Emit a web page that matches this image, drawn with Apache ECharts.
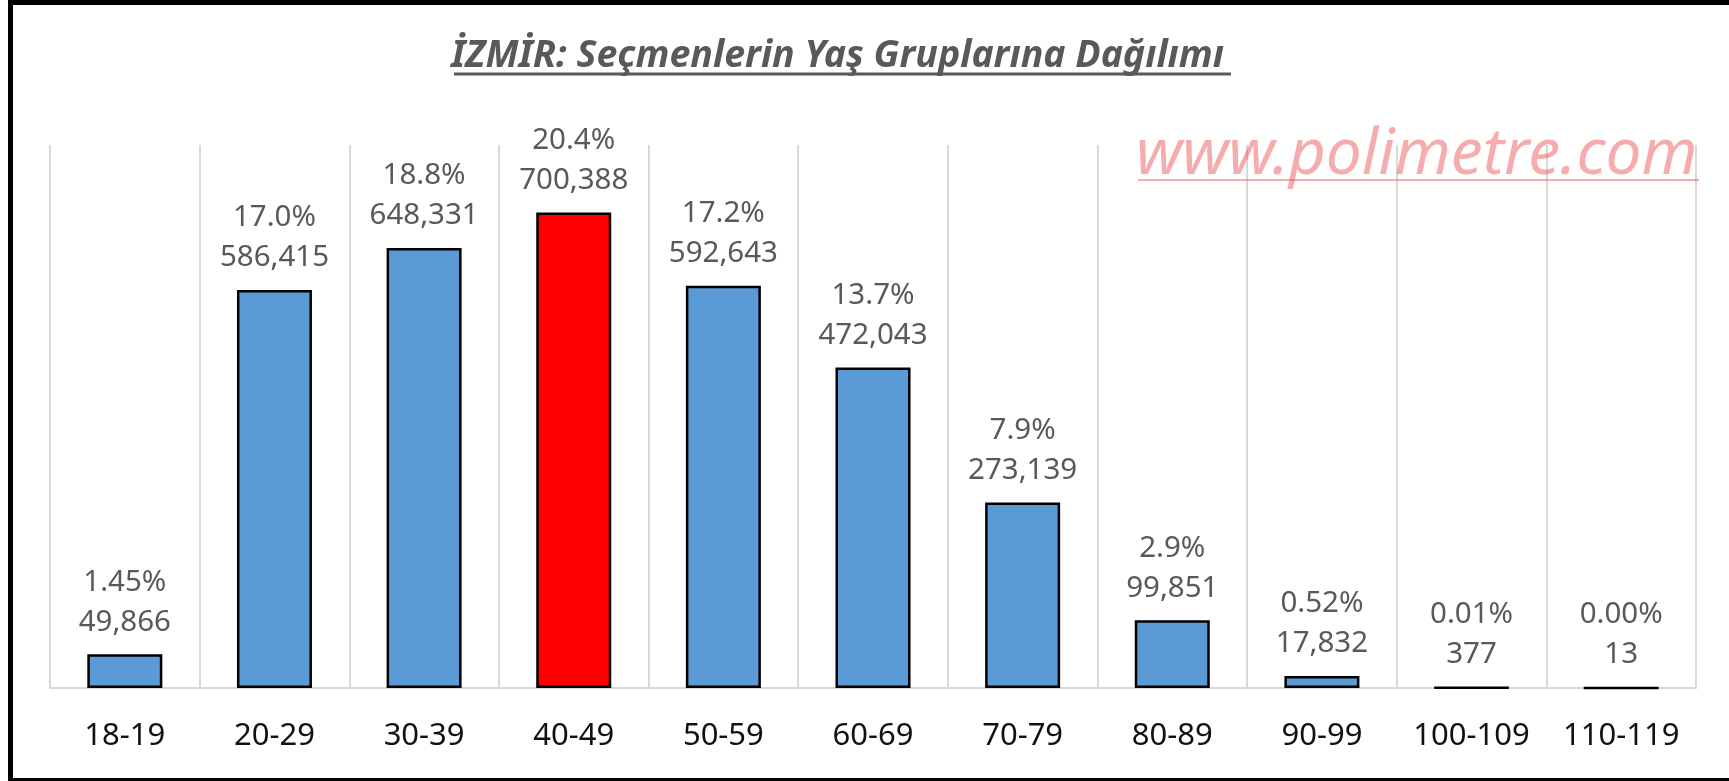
<!DOCTYPE html>
<html>
<head>
<meta charset="utf-8">
<script src="https://cdn.jsdelivr.net/npm/echarts@6/dist/echarts.min.js"></script>
<style>
  html, body { margin: 0; padding: 0; background: #fff; }
  #chart { width: 1729px; height: 781px; }
</style>
</head>
<body>
<div id="chart"></div>
<script>
// yaş grupları ve seçmen sayıları
const ageGroups = ['18-19', '20-29', '30-39', '40-49', '50-59', '60-69', '70-79', '80-89', '90-99', '100-109', '110-119'];
const voters = [49866, 586415, 648331, 700388, 592643, 472043, 273139, 99851, 17832, 377, 13];
const shares = ['1.45%', '17.0%', '18.8%', '20.4%', '17.2%', '13.7%', '7.9%', '2.9%', '0.52%', '0.01%', '0.00%'];
const highlightIndex = 3;

const chart = echarts.init(document.getElementById('chart'));

const option = {
  animation: false,
  backgroundColor: '#fff',
  title: {
    text: 'İZMİR: Seçmenlerin Yaş Gruplarına Dağılımı',
    left: 446,
    top: 32,
    textStyle: {
      fontFamily: 'Noto Sans',
      fontStyle: 'italic',
      fontWeight: 'bold',
      fontSize: 37.5,
      color: '#595959'
    }
  },
  grid: {
    left: 50,
    right: 33,
    top: 145,
    bottom: 93
  },
  xAxis: {
    type: 'category',
    data: ageGroups,
    axisTick: { show: false, interval: 0 },
    axisLine: { lineStyle: { color: '#d9d9d9', width: 2 } },
    splitLine: { show: true, interval: 0, lineStyle: { color: '#d9d9d9', width: 2 } },
    axisLabel: {
      interval: 0,
      fontFamily: 'Noto Sans',
      fontSize: 31,
      color: '#111',
      margin: 33
    }
  },
  yAxis: {
    type: 'value',
    min: 0,
    max: 800000,
    show: false,
    splitLine: { show: false }
  },
  series: [{
    type: 'bar',
    barWidth: 75,
    data: voters.map((v, i) => ({
      value: v,
      itemStyle: { color: i === highlightIndex ? '#ff0000' : '#5b9bd5' }
    })),
    itemStyle: { borderColor: '#000', borderWidth: 2.5 },
    label: {
      show: true,
      position: 'top',
      distance: 12,
      fontFamily: 'Noto Sans',
      fontSize: 29.5,
      lineHeight: 40,
      color: '#595959',
      formatter: p => shares[p.dataIndex] + '\n' + voters[p.dataIndex].toLocaleString('en-US')
    }
  }],
  graphic: [
    // title underline
    { type: 'line', shape: { x1: 454, y1: 74, x2: 1231, y2: 74 }, style: { stroke: '#595959', lineWidth: 3 } },
    // watermark
    {
      type: 'text', left: 1136, top: 124, z: 100,
      style: {
        text: 'www.polimetre.com',
        font: 'italic 64px "Noto Sans"',
        fill: 'rgba(235, 70, 70, 0.45)'
      }
    },
    { type: 'line', z: 100, shape: { x1: 1138, y1: 180, x2: 1699, y2: 180 }, style: { stroke: 'rgba(235, 70, 70, 0.45)', lineWidth: 2 } },
    // frame
    { type: 'rect', shape: { x: 8, y: 0, width: 1729, height: 5 }, style: { fill: '#000' } },
    { type: 'rect', shape: { x: 8, y: 0, width: 5, height: 781 }, style: { fill: '#000' } },
    { type: 'rect', shape: { x: 8, y: 778, width: 1729, height: 3 }, style: { fill: '#000' } }
  ]
};

chart.setOption(option);
</script>
</body>
</html>
